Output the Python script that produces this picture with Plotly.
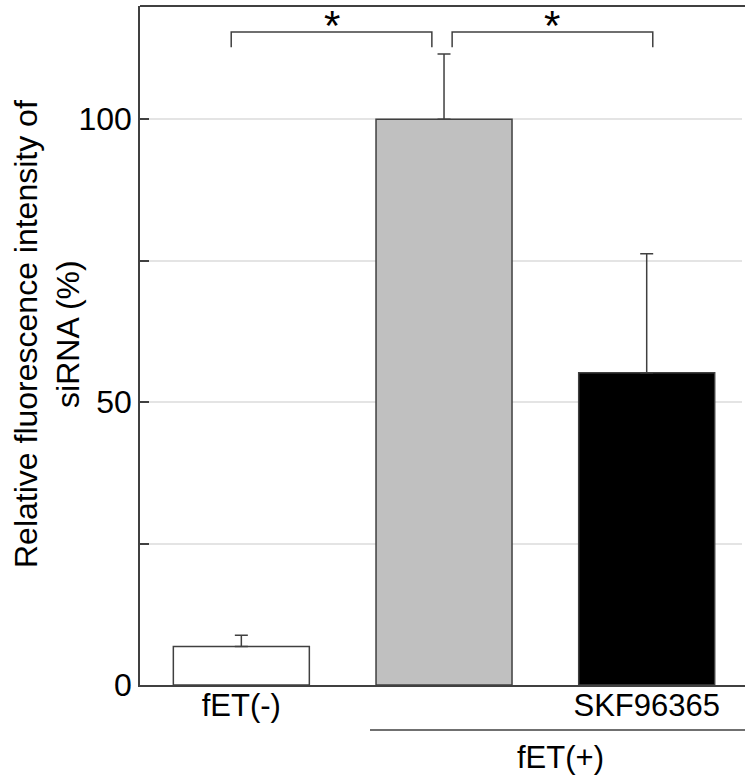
import plotly.graph_objects as go

# ---- data ----
categories = ["fET(-)", "fET(+)", "fET(+) SKF96365"]
tick_labels = ["fET(-)", "", "SKF96365"]
values = [6.8, 100.0, 55.2]
errors = [2.0, 11.5, 21.0]
bar_colors = ["#ffffff", "#c0c0c0", "#000000"]
y_tick_vals = [0, 25, 50, 75, 100]
y_tick_text = ["0", "", "50", "", "100"]
# significance brackets: (from category index, to category index)
brackets = [(0, 1), (1, 2)]
sig_labels = ["*", "*"]
group_label = "fET(+)"

FONT = "Arial, Liberation Sans, sans-serif"
AX = "#404040"
x_pos = list(range(len(categories)))

fig = go.Figure()
fig.add_trace(go.Bar(
    x=x_pos, y=values, width=0.671,
    marker=dict(color=bar_colors, line=dict(color=AX, width=1.5)),
    error_y=dict(type="data", symmetric=False, array=errors,
                 arrayminus=[0] * len(errors), color=AX, thickness=1.5, width=6.5),
    showlegend=False, hoverinfo="y",
))

# significance brackets
leg_top, leg_bottom = 115.4, 112.7
for (a, b), lab, off in zip(brackets, sig_labels, [(-0.05, -0.06), (0.04, 0.03)]):
    xa = a + off[0]
    xb = b + off[1]
    fig.add_shape(type="path",
                  path=f"M {xa} {leg_bottom} L {xa} {leg_top} L {xb} {leg_top} L {xb} {leg_bottom}",
                  line=dict(color=AX, width=1.5), xref="x", yref="y")
    fig.add_annotation(x=(xa + xb) / 2, y=117.4, text=lab, showarrow=False,
                       xref="x", yref="y", yanchor="middle", yshift=-5,
                       font=dict(family=FONT, size=42, color="#000000"))

# top frame line
fig.add_shape(type="line", xref="paper", yref="paper", x0=0, x1=1, y0=1, y1=1,
              line=dict(color=AX, width=2))
# mask the right plot edge (reference has no right frame)
fig.add_shape(type="rect", xref="paper", yref="paper", x0=0.995, x1=1.0,
              y0=0.004, y1=0.996, fillcolor="white", line=dict(width=0), layer="above")

# group line and label for fET(+)
fig.add_shape(type="line", xref="paper", yref="paper",
              x0=(370 - 140) / 605, x1=1.0, y0=-45 / 679, y1=-45 / 679,
              line=dict(color=AX, width=1.5))
fig.add_annotation(xref="paper", yref="paper", x=(560 - 140) / 605, y=-72 / 679,
                   text=group_label, showarrow=False, xanchor="center", yanchor="middle",
                   font=dict(family=FONT, size=31, color="#000000"))

# y-axis title
fig.add_annotation(xref="paper", yref="paper", x=(47 - 140) / 605, y=(685 - 334) / 679,
                   text="Relative fluorescence intensity of<br>siRNA (%)",
                   textangle=-90, showarrow=False, xanchor="center", yanchor="middle",
                   font=dict(family=FONT, size=32, color="#000000"))

fig.update_layout(
    template="none",
    width=745, height=775,
    margin=dict(l=140, r=0, t=6, b=90),
    paper_bgcolor="white", plot_bgcolor="white",
    font=dict(family=FONT, size=31, color="#000000"),
    xaxis=dict(range=[-0.5, 2.485], tickvals=x_pos, ticktext=tick_labels,
               showline=True, linecolor=AX, linewidth=1.5, mirror=False,
               showgrid=False, zeroline=False, ticks="", fixedrange=True,
               ticklabelstandoff=-8,
               tickfont=dict(family=FONT, size=31, color="#000000")),
    yaxis=dict(range=[0, 120], tickvals=y_tick_vals, ticktext=y_tick_text,
               showline=True, linecolor=AX, linewidth=1.5, mirror=False,
               showgrid=True, gridcolor="#e4e4e4", gridwidth=1.5, zeroline=False,
               ticks="inside", ticklen=9, tickcolor=AX, tickwidth=1.5,
               tickfont=dict(family=FONT, size=32, color="#000000")),
    bargap=0.3,
)

fig.write_html("out.html", config={"displayModeBar": False},
               post_script="document.body.style.margin='0';")
